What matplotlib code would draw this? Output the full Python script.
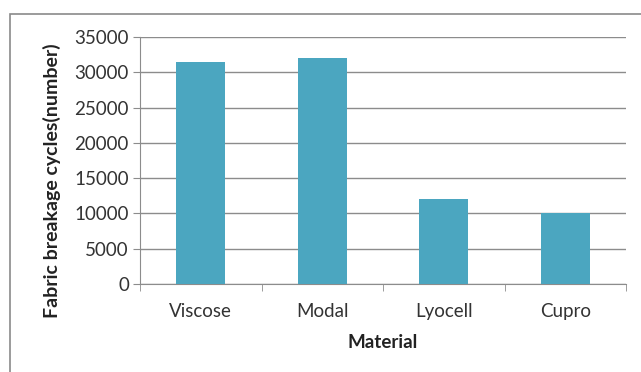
import matplotlib.pyplot as plt
from matplotlib.patches import Rectangle
import numpy as np

materials = ["Viscose", "Modal", "Lyocell", "Cupro"]
cycles = [31400, 32000, 12000, 10000]
y_ticks = [0, 5000, 10000, 15000, 20000, 25000, 30000, 35000]

plt.rcParams['font.family'] = ['Lato', 'DejaVu Sans']

fig = plt.figure(figsize=(6.41, 3.72), dpi=100)
ax = fig.add_axes([140 / 641, 1 - 284 / 372, 486 / 641, 247 / 372])

x = np.arange(len(materials))
ax.bar(x, cycles, width=0.4, color='#4BA6C0', zorder=3)

ax.set_xlim(-0.5, len(materials) - 0.5)
ax.set_ylim(0, 35000)
ax.set_yticks(y_ticks)
ax.set_yticklabels([str(v) for v in y_ticks])
ax.set_xticks(x)
ax.set_xticklabels(materials)
ax.set_xticks(np.arange(-0.5, len(materials)), minor=True)

ax.yaxis.grid(True, color='#8c8c8c', linewidth=1, zorder=0)
ax.tick_params(axis='y', length=5, color='#8c8c8c', labelsize=13.5, labelcolor='#333333', pad=3)
ax.tick_params(axis='x', which='major', length=0, labelsize=13.5, labelcolor='#333333', pad=14)
ax.tick_params(axis='x', which='minor', length=5, color='#8c8c8c')

for s in ['top', 'right']:
    ax.spines[s].set_visible(False)
for s in ['left', 'bottom']:
    ax.spines[s].set_color('#8c8c8c')

ax.set_xlabel("Material", fontsize=13.5, fontweight='bold', color='#222222', va='center')
ax.xaxis.set_label_coords(0.5, -0.235)
ax.set_ylabel("Fabric breakage cycles(number)", fontsize=14, fontweight='bold', color='#222222',
              va='center')
ax.yaxis.set_label_coords(-0.181, 0.417)

# outer chart frame
fig.patches.append(Rectangle((10 / 641, -0.1), 1.2, 1 - 14 / 372 + 0.1, transform=fig.transFigure,
                             fill=False, edgecolor='#8a8a8a', linewidth=1.2, clip_on=False))

fig.savefig("out.png", dpi=100)
